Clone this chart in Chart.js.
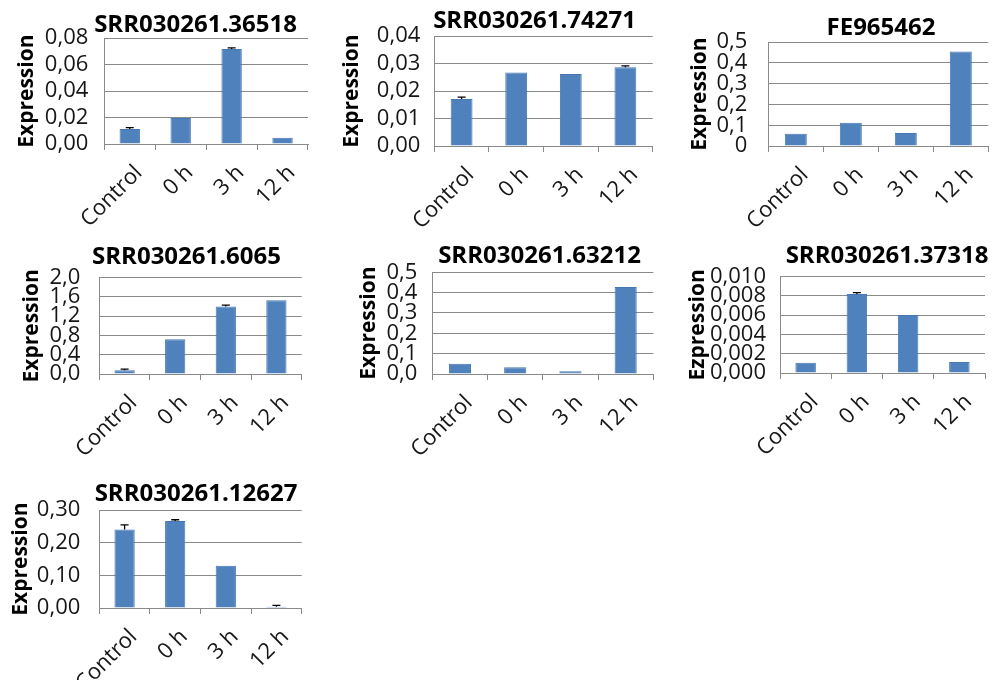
<!DOCTYPE html>
<html>
<head>
<meta charset="utf-8">
<script src="https://cdn.jsdelivr.net/npm/chart.js@4.4.0/dist/chart.umd.min.js"></script>
<style>
  html, body { margin:0; padding:0; background:#fff; }
  #wrap { position:relative; width:1003px; height:680px; overflow:hidden; }
  #wrap canvas { position:absolute; }
</style>
</head>
<body>
<div id="wrap"></div>
<script>
const categories = ['Control', '0 h', '3 h', '12 h'];

const titles = ['SRR030261.36518', 'SRR030261.74271', 'FE965462', 'SRR030261.6065',
                'SRR030261.63212', 'SRR030261.37318', 'SRR030261.12627'];
const yTitles = ['Expression', 'Expression', 'Expression', 'Expression',
                 'Expression', 'Ezpression', 'Expression'];

const values1 = [0.0114, 0.0196, 0.0718, 0.0048];
const errors1 = [0.0010, 0, 0.0009, 0];
const values2 = [0.0171, 0.0268, 0.0262, 0.0287];
const errors2 = [0.0007, 0, 0, 0.0005];
const values3 = [0.0595, 0.1116, 0.0625, 0.455];
const errors3 = [0, 0, 0, 0];
const values4 = [0.076, 0.724, 1.40, 1.53];
const errors4 = [0.024, 0, 0.03, 0];
const values5 = [0.051, 0.033, 0.013, 0.428];
const errors5 = [0, 0, 0, 0];
const values6 = [0.00107, 0.0082, 0.00603, 0.00114];
const errors6 = [0, 0.00014, 0, 0];
const values7 = [0.2405, 0.267, 0.1295, 0.004];
const errors7 = [0.0145, 0.0037, 0, 0.0038];

const ticks1 = ['0,00', '0,02', '0,04', '0,06', '0,08'];
const ticks2 = ['0,00', '0,01', '0,02', '0,03', '0,04'];
const ticks3 = ['0', '0,1', '0,2', '0,3', '0,4', '0,5'];
const ticks4 = ['0,0', '0,4', '0,8', '1,2', '1,6', '2,0'];
const ticks5 = ['0,0', '0,1', '0,2', '0,3', '0,4', '0,5'];
const ticks6 = ['0,000', '0,002', '0,004', '0,006', '0,008', '0,010'];
const ticks7 = ['0,00', '0,10', '0,20', '0,30'];

const yMax  = [0.08, 0.04, 0.5, 2.0, 0.5, 0.010, 0.30];
const yStep = [0.02, 0.01, 0.1, 0.4, 0.1, 0.002, 0.10];

const allValues = [values1, values2, values3, values4, values5, values6, values7];
const allErrors = [errors1, errors2, errors3, errors4, errors5, errors6, errors7];
const allTicks  = [ticks1, ticks2, ticks3, ticks4, ticks5, ticks6, ticks7];

// page layout: plot box (l,r,t,b), title centre (tx,ty), y title centre x, label gap
const panels = [
  { l:104.3, r:308,   t:34.3,  b:144.3, tx:195.5, ty:24,    yx:27,  g:16 },
  { l:434.3, r:652.7, t:35.7,  b:145.7, tx:534.5, ty:24,    yx:352, g:14 },
  { l:768.3, r:988.3, t:34,    b:146,   tx:881,   ty:23,    yx:700, g:21 },
  { l:99.3,  r:301.7, t:277.7, b:374.3, tx:186.7, ty:260,   yx:32,  g:19 },
  { l:432.3, r:653.3, t:272.3, b:374,   tx:539.7, ty:259.3, yx:369, g:15 },
  { l:780,   r:985,   t:276.7, b:373.3, tx:887,   ty:258.8, yx:698, g:14 },
  { l:99.3,  r:301.7, t:505.7, b:608.3, tx:196,   ty:492.8, yx:21,  g:19 }
];

const FONT = "'Open Sans', 'Liberation Sans', sans-serif";
const TITLE_SIZE = 24, YT_SIZE = 21, YT_LH = 1.2, X_H = 90;
const GRID = '#8a8a8a', TEXT = '#161616', BAR = '#4f81bd';

const errorBars = {
  id: 'errorBars',
  afterDatasetsDraw(chart, args, opts) {
    const errs = opts.errors || [];
    const { ctx, scales: { y } } = chart;
    const meta = chart.getDatasetMeta(0);
    const vals = chart.data.datasets[0].data;
    ctx.save();
    ctx.strokeStyle = '#000';
    ctx.lineWidth = 1.3;
    meta.data.forEach((bar, i) => {
      if (!errs[i]) return;
      const y0 = y.getPixelForValue(vals[i]);
      const y1 = y.getPixelForValue(vals[i] + errs[i]);
      ctx.beginPath();
      ctx.moveTo(bar.x, y0); ctx.lineTo(bar.x, y1);
      ctx.moveTo(bar.x - 4, y1); ctx.lineTo(bar.x + 4, y1);
      ctx.stroke();
    });
    ctx.restore();
  }
};

const wrap = document.getElementById('wrap');

function makeChart(i) {
  const p = panels[i];
  const left = Math.round(p.yx - YT_SIZE * YT_LH / 2);
  const right = Math.round(2 * p.tx - left);
  const top = Math.round(p.ty - TITLE_SIZE / 2 - 3);
  const titlePad = Math.max(0, p.t - (top + TITLE_SIZE));
  const height = Math.round(p.b - top + X_H);
  const cv = document.createElement('canvas');
  cv.width = right - left; cv.height = height;
  cv.style.left = left + 'px'; cv.style.top = top + 'px';
  wrap.appendChild(cv);
  const labels = allTicks[i], step = yStep[i];

  new Chart(cv, {
    type: 'bar',
    data: {
      labels: categories,
      datasets: [{ data: allValues[i], backgroundColor: BAR, borderColor: '#4677b2', borderWidth: 1,
                   barPercentage: 0.4, categoryPercentage: 1 }]
    },
    options: {
      responsive: false, animation: false,
      layout: { padding: 0 },
      plugins: {
        legend: { display: false }, tooltip: { enabled: false },
        title: { display: true, text: titles[i], color: '#000',
                 font: { family: FONT, size: TITLE_SIZE, weight: 'bold', lineHeight: 1 },
                 padding: { top: 0, bottom: titlePad } },
        errorBars: { errors: allErrors[i] }
      },
      scales: {
        x: {
          grid: { display: true, drawOnChartArea: false, color: GRID, tickLength: 6, offset: true },
          border: { color: GRID },
          ticks: { color: TEXT, font: { family: FONT, size: 22 }, minRotation: 45, maxRotation: 45,
                   autoSkip: false, padding: 10, labelOffset: 9 },
          afterFit: s => { s.height = X_H; }
        },
        y: {
          min: 0, max: yMax[i],
          grid: { color: GRID, drawTicks: false },
          border: { color: GRID },
          ticks: { stepSize: step, autoSkip: false, color: TEXT, padding: p.g,
                   font: { family: FONT, size: 22 },
                   callback: v => labels[Math.round(v / step)] },
          title: { display: true, text: yTitles[i], color: '#000', padding: 0,
                   font: { family: FONT, size: YT_SIZE, weight: 'bold', lineHeight: YT_LH } },
          afterFit: s => { s.width = p.l - left; }
        },
        yR: {
          position: 'right', display: true,
          grid: { display: false }, border: { display: false }, ticks: { display: false },
          afterFit: s => { s.width = right - p.r; }
        }
      }
    },
    plugins: [errorBars]
  });
}

titles.forEach((t, i) => makeChart(i));
</script>
</body>
</html>
